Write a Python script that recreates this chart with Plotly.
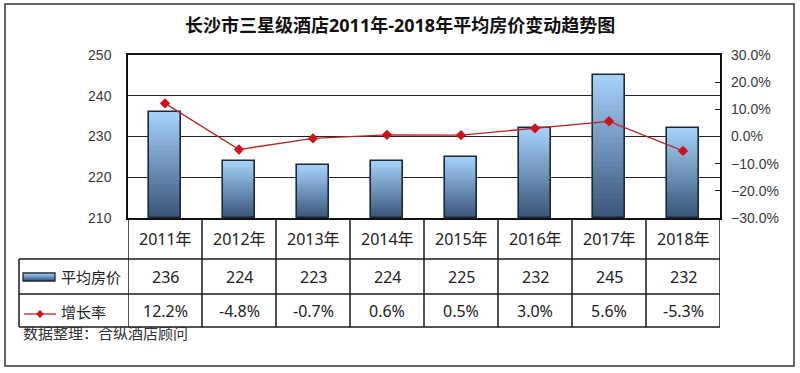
import plotly.graph_objects as go

years = ["2011年", "2012年", "2013年", "2014年", "2015年", "2016年", "2017年", "2018年"]
avg_price = [236, 224, 223, 224, 225, 232, 245, 232]
growth = [12.2, -4.8, -0.7, 0.6, 0.5, 3.0, 5.6, -5.3]
growth_labels = ["12.2%", "-4.8%", "-0.7%", "0.6%", "0.5%", "3.0%", "5.6%", "-5.3%"]
title = "长沙市三星级酒店2011年-2018年平均房价变动趋势图"
series_names = ["平均房价", "增长率"]
footer = "数据整理：合纵酒店顾问"

Y_MIN, Y_MAX = 210, 250
FIG_W, FIG_H = 800, 373
L, R, T, B = 128, 80, 55, 155
PW, PH = FIG_W - L - R, FIG_H - T - B


def px(x):
    return (x - L) / PW


def py(y):
    return (FIG_H - B - y) / PH


def lerp(c1, c2, t):
    return "rgb(%d,%d,%d)" % tuple(round(a + (b - a) * t) for a, b in zip(c1, c2))


DARK = (58, 86, 122)
LIGHT = (164, 208, 248)
N = 28

fig = go.Figure()
xs = list(range(len(years)))
BW = 0.42
# gradient bars built as stacked segments of each value
for k in range(N):
    seg = [(v - Y_MIN) / N for v in avg_price]
    base = [Y_MIN + k * s for s in seg]
    fig.add_trace(go.Bar(
        x=xs, y=seg, base=base, width=BW,
        marker=dict(color=lerp(DARK, LIGHT, k / (N - 1)), line=dict(width=0)),
        showlegend=False, hoverinfo="skip"))
# outline
fig.add_trace(go.Bar(
    x=xs, y=[v - Y_MIN for v in avg_price], base=[Y_MIN] * len(avg_price), width=BW,
    marker=dict(color="rgba(0,0,0,0)", line=dict(color="#1c2838", width=1.6)),
    name=series_names[0], showlegend=False))

fig.add_trace(go.Scatter(
    x=xs, y=[g / 100 for g in growth], yaxis="y2", mode="lines+markers",
    line=dict(color="#b8262b", width=1.3),
    marker=dict(symbol="diamond", size=8, color="#d0101a"),
    name=series_names[1], showlegend=False))

axis_font = dict(family="Liberation Sans, Arial, sans-serif", size=14, color="#3a3a3a")
cjk = "Noto Sans, Noto Sans CJK SC, sans-serif"

fig.update_layout(
    width=FIG_W, height=FIG_H, autosize=False,
    margin=dict(l=L, r=R, t=T, b=B, pad=0),
    paper_bgcolor="white", plot_bgcolor="white",
    barmode="overlay", bargap=0,
    xaxis=dict(range=[-0.5, len(years) - 0.5], showticklabels=False, showgrid=False,
               zeroline=False, showline=True, linecolor="#111", linewidth=1.5, mirror=True,
               ticks="", fixedrange=True),
    yaxis=dict(range=[Y_MIN, Y_MAX], dtick=10, showgrid=True, gridcolor="#222", gridwidth=1.3,
               zeroline=False, showline=True, linecolor="#111", linewidth=1.5, mirror=True,
               ticks="", tickfont=axis_font, ticklabelstandoff=12),
    yaxis2=dict(range=[-0.3, 0.3], dtick=0.1, tickformat=".1%", overlaying="y", side="right",
                showgrid=False, zeroline=False, showline=False, ticks="inside", ticklen=5,
                tickcolor="#222", tickwidth=1.3, tickfont=axis_font, ticklabelstandoff=10),
)

shapes = []
line_style = dict(color="#1a1a1a", width=1.5)
# outer frame
shapes.append(dict(type="rect", xref="paper", yref="paper", x0=px(5), x1=px(794), y0=py(4), y1=py(366),
                   line=dict(color="#333", width=1.5)))
# table horizontal lines
for yy, x0 in [(259, 19), (294, 19), (327, 19)]:
    shapes.append(dict(type="line", xref="paper", yref="paper", x0=px(x0), x1=px(720), y0=py(yy), y1=py(yy),
                       line=line_style))
# table vertical lines
for i in range(len(years) + 1):
    shapes.append(dict(type="line", xref="x", yref="paper", x0=i - 0.5, x1=i - 0.5, y0=py(218), y1=py(327),
                       line=line_style))
shapes.append(dict(type="line", xref="paper", yref="paper", x0=px(19), x1=px(19), y0=py(259), y1=py(327),
                   line=line_style))
# legend icon: gradient rect
NL = 8
for k in range(NL):
    y0 = 281 - k * (8 / NL)
    shapes.append(dict(type="rect", xref="paper", yref="paper", x0=px(23), x1=px(55), y0=py(y0), y1=py(y0 - 8 / NL),
                       fillcolor=lerp(DARK, LIGHT, k / (NL - 1)), line=dict(width=0)))
shapes.append(dict(type="rect", xref="paper", yref="paper", x0=px(23), x1=px(55), y0=py(281), y1=py(273),
                   line=dict(color="#1c2838", width=1.3)))
# legend icon: line + diamond
shapes.append(dict(type="line", xref="paper", yref="paper", x0=px(24), x1=px(56), y0=py(314), y1=py(314),
                   line=dict(color="#b8262b", width=1.3)))
d = 4
shapes.append(dict(type="path", xref="paper", yref="paper",
                   path="M %f,%f L %f,%f L %f,%f L %f,%f Z" % (px(40 - d), py(314), px(40), py(314 - d),
                                                           px(40 + d), py(314), px(40), py(314 + d)),
                   fillcolor="#d0101a", line=dict(width=0)))
fig.update_layout(shapes=shapes)

ann = []
ann.append(dict(text="<b>" + title + "</b>", xref="paper", yref="paper", x=px(400), y=py(25),
                showarrow=False, font=dict(family=cjk, size=18, color="#111"),
                xanchor="center", yanchor="middle"))
table_font = dict(family=cjk, size=16, color="#222")
for i, yr in enumerate(years):
    ann.append(dict(text=yr, xref="x", yref="paper", x=i, y=py(238.5), showarrow=False, font=table_font,
                    xanchor="center", yanchor="middle"))
    ann.append(dict(text=str(avg_price[i]), xref="x", yref="paper", x=i, y=py(276.5), showarrow=False,
                    font=table_font, xanchor="center", yanchor="middle"))
    ann.append(dict(text=growth_labels[i], xref="x", yref="paper", x=i, y=py(310.5), showarrow=False,
                    font=table_font, xanchor="center", yanchor="middle"))
legend_font = dict(family=cjk, size=15, color="#222")
ann.append(dict(text=series_names[0], xref="paper", yref="paper", x=px(59), y=py(277), xanchor="left",
                yanchor="middle", showarrow=False, font=legend_font))
ann.append(dict(text=series_names[1], xref="paper", yref="paper", x=px(59), y=py(312), xanchor="left",
                yanchor="middle", showarrow=False, font=legend_font))
ann.append(dict(text=footer, xref="paper", yref="paper", x=px(21), y=py(333), xanchor="left",
                yanchor="middle", showarrow=False, font=dict(family=cjk, size=15, color="#333")))
fig.update_layout(annotations=ann)

fig.write_html("out.html", config={"displayModeBar": False},
               post_script="document.body.style.margin='0';document.body.style.overflow='hidden';")
